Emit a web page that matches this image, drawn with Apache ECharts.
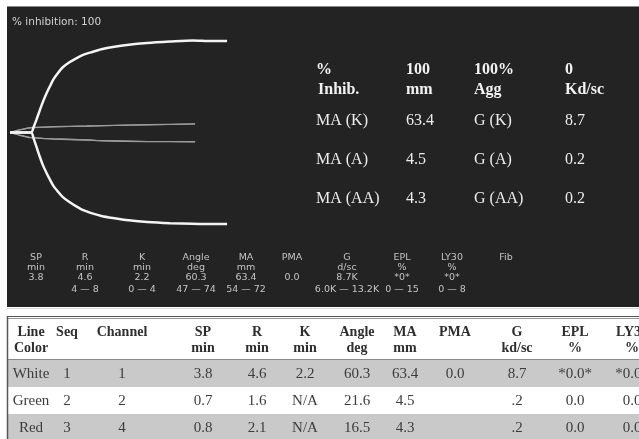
<!DOCTYPE html>
<html>
<head>
<meta charset="utf-8">
<script src="https://cdn.jsdelivr.net/npm/echarts@6/dist/echarts.min.js"></script>
<style>
html,body{margin:0;padding:0;background:#fff;}
#chart{width:639px;height:439px;}
</style>
</head>
<body>
<div id="chart"></div>
<script>
// ---- Trace data (time in minutes, half-amplitude in mm) ----
const whiteTime  = [0, 4.6, 5.2, 5.8, 6.5, 7.2, 8, 8.8, 9.5, 10.5, 11.5, 13, 14.5, 16, 18, 20, 22.5, 26, 30, 35, 40, 44, 47.5];
const whiteUpper = [0, 0, 2.0, 4.5, 7.6, 10.6, 13.6, 16.2, 18.4, 20.6, 22.5, 24.3, 25.7, 26.9, 27.9, 28.8, 29.6, 30.4, 31.0, 31.5, 31.9, 31.7, 31.7];
const whiteLower = [0, 0, 2.2, 5.0, 8.3, 11.3, 14.0, 16.5, 18.5, 20.5, 22.3, 24.1, 25.6, 26.9, 28.0, 28.9, 29.6, 30.4, 31.0, 31.4, 31.6, 31.7, 31.7];

const thinTime   = [0, 2, 4.5, 9.4, 16.8, 20.4, 30, 40.5];
const greenUpper = [0, 0.9, 1.7, 2.0, 2.25, 2.4, 2.7, 3.0];
const greenLower = [0, 0.9, 1.8, 2.25, 2.6, 2.85, 3.15, 3.2];
const redUpper   = [0, 0.8, 1.6, 1.95, 2.2, 2.35, 2.65, 2.95];
const redLower   = [0, 0.85, 1.75, 2.2, 2.55, 2.8, 3.1, 3.15];

// ---- Text data ----
const inhibitionLabel = "% inhibition: 100";
const summaryHead1 = ["%", "100", "100%", "0"];
const summaryHead2 = ["Inhib.", "mm", "Agg", "Kd/sc"];
const maLabels = ["MA (K)", "MA (A)", "MA (AA)"];
const maValues = ["63.4", "4.5", "4.3"];
const gLabels  = ["G (K)", "G (A)", "G (AA)"];
const gValues  = ["8.7", "0.2", "0.2"];

const paramNames  = ["SP", "R", "K", "Angle", "MA", "PMA", "G", "EPL", "LY30", "Fib"];
const paramUnits  = ["min", "min", "min", "deg", "mm", "", "d/sc", "%", "%", ""];
const paramValues = ["3.8", "4.6", "2.2", "60.3", "63.4", "0.0", "8.7K", "*0*", "*0*", ""];
const paramRanges = ["", "4 \u2014 8", "0 \u2014 4", "47 \u2014 74", "54 \u2014 72", "", "6.0K \u2014 13.2K", "0 \u2014 15", "0 \u2014 8", ""];

const tableHead1 = ["Line", "Seq", "Channel", "SP", "R", "K", "Angle", "MA", "PMA", "G", "EPL", "LY30"];
const tableHead2 = ["Color", "", "", "min", "min", "min", "deg", "mm", "", "kd/sc", "%", "%"];
const rowWhite = ["White", "1", "1", "3.8", "4.6", "2.2", "60.3", "63.4", "0.0", "8.7", "*0.0*", "*0.0*"];
const rowGreen = ["Green", "2", "2", "0.7", "1.6", "N/A", "21.6", "4.5", "", ".2", "0.0", "0.0"];
const rowRed   = ["Red", "3", "4", "0.8", "2.1", "N/A", "16.5", "4.3", "", ".2", "0.0", "0.0"];

// ---- Layout ----
const summaryX = [316, 406, 474, 565];
const summaryRowY = [121, 160, 199];
const paramX = [36, 85, 142, 196, 246, 292, 347, 402, 452, 506];
const paramY = [258, 268, 278, 289.5];
const tableX = [31, 67, 122, 203, 257, 305, 357, 405, 455, 517, 575, 632];
const rowTops = [360, 387, 414];
const rowH = [27, 27, 30];
const rowBg = ['#c9c9c9', '#ffffff', '#c9c9c9'];

const chart = echarts.init(document.getElementById('chart'), null, {renderer: 'canvas'});

function pairs(t, v, sign) { return t.map((x, i) => [x, sign * v[i]]); }

const g = [];
// dark panel
g.push({type: 'rect', shape: {x: 7, y: 6, width: 632, height: 301}, style: {fill: '#232323'}, z: -10});
g.push({type: 'line', shape: {x1: 7, y1: 6.5, x2: 639, y2: 6.5}, style: {stroke: '#8a8a8a', lineWidth: 1}, z: -9});
g.push({type: 'line', shape: {x1: 7, y1: 308.5, x2: 639, y2: 308.5}, style: {stroke: '#d8d8d8', lineWidth: 1}, z: -9});
// table backgrounds
rowTops.forEach((y, i) => {
  g.push({type: 'rect', shape: {x: 7, y: y, width: 632, height: rowH[i]}, style: {fill: rowBg[i]}, z: -10});
});
g.push({type: 'line', shape: {x1: 7, y1: 316.5, x2: 639, y2: 316.5}, style: {stroke: '#555', lineWidth: 1}, z: -8});
g.push({type: 'line', shape: {x1: 7, y1: 318.5, x2: 639, y2: 318.5}, style: {stroke: '#999', lineWidth: 1}, z: -8});
g.push({type: 'line', shape: {x1: 7, y1: 359.5, x2: 639, y2: 359.5}, style: {stroke: '#888', lineWidth: 1}, z: -8});
g.push({type: 'line', shape: {x1: 7.5, y1: 316, x2: 7.5, y2: 439}, style: {stroke: '#555', lineWidth: 1.5}, z: -8});

// top-left label
g.push({type: 'text', x: 12, y: 22, style: {text: inhibitionLabel, fill: '#d2d2d2', font: '10.5px "DejaVu Sans"', verticalAlign: 'middle'}, z: 10});

// summary block
const serif = '"Liberation Serif", "Times New Roman", serif';
summaryX.forEach((x, i) => {
  g.push({type: 'text', x: x, y: 70, style: {text: summaryHead1[i], fill: '#f2f2f2', font: 'bold 16px ' + serif, verticalAlign: 'middle'}, z: 10});
  g.push({type: 'text', x: x + (i === 0 ? 2 : 0), y: 90, style: {text: summaryHead2[i], fill: '#f2f2f2', font: 'bold 16px ' + serif, verticalAlign: 'middle'}, z: 10});
});
summaryRowY.forEach((y, r) => {
  const vals = [maLabels[r], maValues[r], gLabels[r], gValues[r]];
  vals.forEach((v, i) => {
    g.push({type: 'text', x: summaryX[i], y: y, style: {text: v, fill: '#ececec', font: '16px ' + serif, verticalAlign: 'middle'}, z: 10});
  });
});

// parameter block inside dark panel
const paramRows = [paramNames, paramUnits, paramValues, paramRanges];
paramRows.forEach((row, r) => {
  row.forEach((v, i) => {
    if (!v) return;
    g.push({type: 'text', x: paramX[i], y: paramY[r], style: {text: v, fill: '#c4c4c4', font: '9.5px "DejaVu Sans"', align: 'center', verticalAlign: 'middle'}, z: 10});
  });
});

// bottom table
[tableHead1, tableHead2].forEach((row, r) => {
  row.forEach((v, i) => {
    if (!v) return;
    g.push({type: 'text', x: tableX[i], y: r === 0 ? 332 : 348, style: {text: v, fill: '#2e2e2e', font: 'bold 14px ' + serif, align: 'center', verticalAlign: 'middle'}, z: 10});
  });
});
[rowWhite, rowGreen, rowRed].forEach((row, r) => {
  row.forEach((v, i) => {
    if (!v) return;
    g.push({type: 'text', x: tableX[i], y: rowTops[r] + 14, style: {text: v, fill: '#3c3c3c', font: '15px ' + serif, align: 'center', verticalAlign: 'middle'}, z: 10});
  });
});

function traceSeries(name, data, color, width) {
  return {
    name: name, type: 'line', data: data, showSymbol: false, symbol: 'none',
    smooth: 0.25, z: 5, silent: true,
    lineStyle: {color: color, width: width}, animation: false
  };
}

const option = {
  backgroundColor: '#ffffff',
  animation: false,
  grid: {left: 10, top: 17, width: 228.5, height: 231},
  xAxis: {type: 'value', min: 0, max: 50, show: false},
  yAxis: {type: 'value', min: -40, max: 40, show: false},
  graphic: {elements: g},
  series: [
    traceSeries('Green upper', pairs(thinTime, greenUpper, 1), '#a8a8a8', 1.3),
    traceSeries('Green lower', pairs(thinTime, greenLower, -1), '#a8a8a8', 1.3),
    traceSeries('Red upper', pairs(thinTime, redUpper, 1), '#9a9a9a', 1.1),
    traceSeries('Red lower', pairs(thinTime, redLower, -1), '#9a9a9a', 1.1),
    traceSeries('White upper', pairs(whiteTime, whiteUpper, 1), '#f4f4f4', 2.5),
    traceSeries('White lower', pairs(whiteTime, whiteLower, -1), '#f4f4f4', 2.5)
  ]
};
chart.setOption(option);
</script>
</body>
</html>
